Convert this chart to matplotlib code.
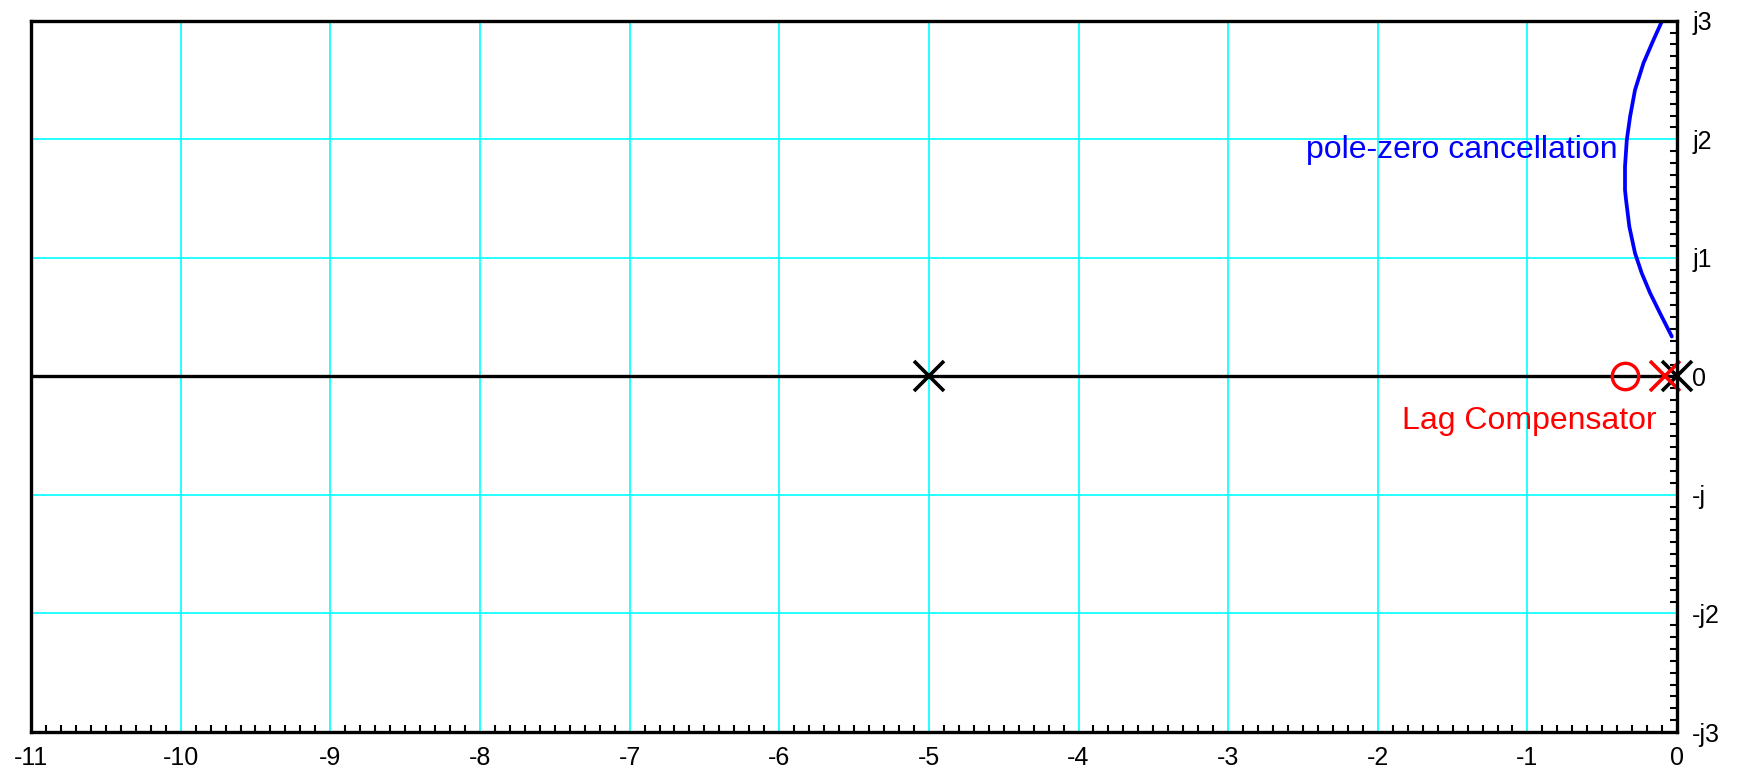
import matplotlib.pyplot as plt
import numpy as np

plt.rcParams['font.family'] = ['Liberation Sans', 'DejaVu Sans']

# open-loop poles of the plant and the lag compensator pole/zero
plant_poles = [0.0, -5.0]
lag_pole = [-0.08]
lag_zero = [-0.35]

# complex branch of the root locus (upper half plane)
locus_re = [-0.096, -0.158, -0.225, -0.281, -0.314, -0.336, -0.348, -0.348,
            -0.348, -0.341, -0.319, -0.281, -0.236, -0.180, -0.114, -0.035]
locus_im = [3.010, 2.837, 2.641, 2.416, 2.191, 1.994, 1.769, 1.657,
            1.573, 1.488, 1.263, 1.039, 0.870, 0.702, 0.533, 0.336]

xticks = list(range(-11, 1))
xlabels = [str(v) for v in xticks]
yticks = [-3, -2, -1, 0, 1, 2, 3]
ylabels = ['-j3', '-j2', '-j', '0', 'j1', 'j2', 'j3']

fig = plt.figure(figsize=(17.37, 7.7), dpi=100)
ax = fig.add_axes([0.01785, 0.04935, 0.9655 - 0.01785, 0.9731 - 0.04935])

ax.set_xlim(-11, 0)
ax.set_ylim(-3, 3)

# grid
for v in xticks:
    ax.axvline(v, color='#00ffff', lw=1.2, zorder=1)
for v in yticks:
    ax.axhline(v, color='#00ffff', lw=1.2, zorder=1)

# real-axis part of the locus
ax.plot([-11, 0], [0, 0], color='black', lw=2.4, zorder=2)

# complex branch
ax.plot(locus_re, locus_im, color='#0000ff', lw=2.7, zorder=3,
        solid_joinstyle='round', solid_capstyle='round')

# poles and zeros
ax.plot(plant_poles, [0] * len(plant_poles), 'x', ms=21, mec='black',
        mew=2.6, zorder=4, clip_on=False)
ax.plot(lag_zero, [0] * len(lag_zero), 'o', ms=19, mfc='none', mec='red',
        mew=2.4, zorder=5, clip_on=False)
ax.plot(lag_pole, [0] * len(lag_pole), 'x', ms=21, mec='red', mew=2.6,
        zorder=5, clip_on=False)

ax.text(-0.394, 1.846, 'pole-zero cancellation', color='#0000ff',
        fontsize=23, ha='right', va='baseline', zorder=6)
ax.text(-0.136, -0.443, 'Lag Compensator', color='red',
        fontsize=23, ha='right', va='baseline', zorder=6)

# ticks: labels on bottom and right, minor ticks pointing inward
ax.set_xticks(xticks)
ax.set_xticklabels(xlabels)
ax.set_yticks(yticks)
ax.set_yticklabels(ylabels)
ax.set_xticks(np.arange(-11, 0.001, 0.1), minor=True)
ax.set_yticks(np.arange(-3, 3.001, 0.1), minor=True)
ax.yaxis.tick_right()
ax.tick_params(which='major', length=0, labelsize=18)
ax.tick_params(axis='x', which='major', pad=10)
ax.tick_params(axis='y', which='major', pad=11)
ax.tick_params(which='minor', direction='in', length=5.3, width=1.5,
               color='black')
ax.tick_params(axis='y', which='minor', left=False, right=True)
ax.tick_params(axis='x', which='minor', top=False, bottom=True)

for s in ax.spines.values():
    s.set_linewidth(2.4)
    s.set_color('black')
    s.set_zorder(7)

fig.savefig('out.png', dpi=100)
